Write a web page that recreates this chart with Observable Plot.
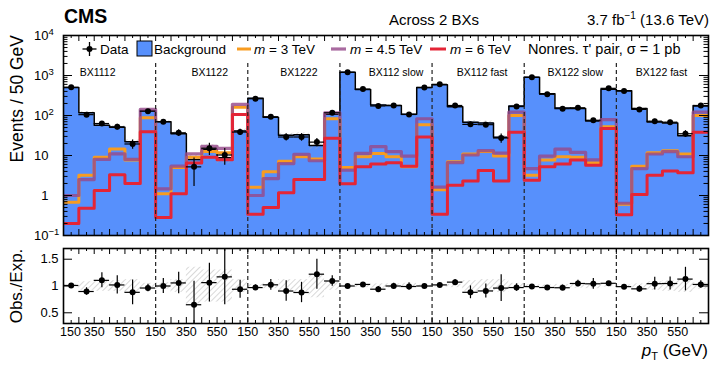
<!DOCTYPE html>
<html><head><meta charset="utf-8">
<script src="https://cdn.jsdelivr.net/npm/d3@7"></script>
<script src="https://cdn.jsdelivr.net/npm/@observablehq/plot@0.6"></script>
<style>
html,body{margin:0;padding:0;background:#fff;}
#wrap{position:relative;width:716px;height:366px;overflow:hidden;font-family:"Liberation Sans",Arial,Helvetica,sans-serif;}
#wrap svg{position:absolute;left:0;overflow:visible;}
</style></head><body>
<svg width="0" height="0" style="position:absolute">
<defs><pattern id="hatch" patternUnits="userSpaceOnUse" width="4" height="4" patternTransform="rotate(45)"><line x1="0" y1="0" x2="0" y2="4" stroke="#a8a8a8" stroke-width="0.9"/></pattern></defs></svg>
<div id="wrap"></div>
<script>
// ---------------- data ----------------
const regions = ["BX1112","BX1122","BX1222","BX112 slow","BX112 fast","BX122 slow","BX122 fast"];
const binLowEdges = ["150","250","350","450","550","650"];
const background = [
  500,117,57,51,22,133,
  70,35,8,14.3,8.8,41,
  270,91,32,33,17.7,107,
  1200,445,184,178,107,500,
  590,166,68,65,28.5,172,
  910,350,153,149,73,455,
  415,150,69,65,31,173];
const observed = [
  505,105,63,52,19.4,128,
  70,37,5.2,15.2,10.3,38.5,
  262,93,29,29,21.6,117,
  1200,458,173,178,106,500,
  602,178,60,59,27.4,167,
  900,340,148,156,76,478,
  410,142,72,68,35,178];
const ratioErr = [
  0.03,0.07,0.14,0.17,0.23,0.07,
  0.14,0.2,0.44,0.36,0.52,0.17,
  0.05,0.1,0.19,0.19,0.28,0.1,
  0.02,0.03,0.05,0.05,0.07,0.03,
  0.03,0.05,0.12,0.13,0.25,0.07,
  0.02,0.03,0.05,0.06,0.1,0.03,
  0.03,0.06,0.12,0.12,0.22,0.07];
const bkgUnc = [
  0.03,0.08,0.1,0.1,0.12,0.05,
  0.06,0.12,0.35,0.3,0.3,0.12,
  0.03,0.05,0.12,0.12,0.22,0.08,
  0.02,0.03,0.04,0.04,0.05,0.02,
  0.02,0.03,0.1,0.12,0.12,0.05,
  0.02,0.02,0.03,0.04,0.05,0.02,
  0.02,0.04,0.08,0.1,0.12,0.06];
const sigM3 = [
  0.68,3.2,9,14.6,7.7,88,
  1.1,5,9,12.5,11.8,160,
  1.6,3.9,7.2,9.3,8.2,83,
  5.0,9.3,11.3,9.3,5.2,59,
  1.4,7,10.9,12.5,9.7,100,
  3.2,7.7,9.3,9,6.6,52,
  0.6,5.4,11.8,13.2,10.9,100];
const sigM45 = [
  1.0,2.5,8,11,8,142,
  1.47,5.4,11,17,15,190,
  1.0,2.65,6.3,10.7,7.4,117,
  4.3,11.3,16.7,12.5,9.7,83,
  1.62,6.6,10.3,13.2,11.5,122,
  4.7,9.7,14.4,12,7.8,79,
  0.64,4.7,10.9,12.5,9.3,121];
const sigM6 = [
  0.2,0.48,1.34,3.3,2.0,39,
  0.28,1.1,6.5,9,7.8,106,
  0.34,0.5,1.17,2.5,2.5,27,
  1.98,5.2,6.1,6.6,5.4,29,
  0.34,1.8,2.3,4.2,2.3,38,
  2.4,5.2,6.1,7.7,5.7,47,
  0.33,1.06,3.2,4.1,3.7,38];
const yTicksTop = [0.1,1,10,100,1000,10000];
const yTickLabelsTop = ["10^-1","1","10","10^2","10^3","10^4"];
const ratioTicks = [0.5,1,1.5];
const ratioTickLabels = ["0.5","1","1.5"];

// ---------------- styling ----------------
const C = {bkg:"#5790fc", m3:"#f89c20", m45:"#964a8b", m6:"#e42536"};
const labelDx = [-12,8,5,10,4,5,-1];
const nb = background.length, perRegion = binLowEdges.length;
const bins = background.map((b,i)=>({
  x1:i, x2:i+1, xc:i+0.5, bkg:b, obs:observed[i],
  ratio: observed[i]/b, rErr: ratioErr[i], dErr: ratioErr[i]*b, unc: bkgUnc[i]}));
const steps = arr => arr.map((v,i)=>({x:i,y:v})).concat([{x:arr.length,y:arr[arr.length-1]}]);
const boundaries = d3.range(1, regions.length).map(r=>r*perRegion);
const edges = d3.range(1, nb);
const mids = d3.range(0, nb).map(i=>i+0.5);
const minorLog = yTicksTop.slice(0,-1).flatMap(d=>d3.range(2,10).map(k=>d*k));
const font = "Liberation Sans, Arial, Helvetica, sans-serif";

const W = 716, ML = 63, MR = 8;
const FW = W-ML-MR;
// upper panel
const TH = 240, TT = 35, TB = 5, TFH = TH-TT-TB;
const topLabel = new Map(yTicksTop.map((t,i)=>[t, yTickLabelsTop[i]]));
const line = (arr, stroke, w, op=1) => Plot.line(steps(arr), {x:"x", y:"y", curve:"step-after", stroke, strokeWidth:w, strokeOpacity:op, clip:true});

const upper = Plot.plot({
  width: W, height: TH, marginLeft: ML, marginRight: MR, marginTop: TT, marginBottom: TB,
  style: {fontFamily: font, fontSize: "13px", color: "black", background: "transparent", overflow: "visible"},
  x: {domain: [0, nb], axis: null},
  y: {type: "log", domain: [0.1, 1e4], axis: null},
  marks: [
    Plot.areaY(steps(background), {x:"x", y1: ()=>0.1, y2:"y", curve:"step-after", fill:C.bkg}),
    Plot.rect(bins, {x1:"x1", x2:"x2", y1:d=>d.bkg*(1-d.unc), y2:d=>d.bkg*(1+d.unc), fill:"url(#hatch)"}),
    line(background, "black", 1.5),
    line(sigM3, C.m3, 3),
    line(sigM45, C.m45, 3.2, 0.82),
    line(sigM6, C.m6, 3),
    Plot.ruleX(boundaries, {x:d=>d, y1:()=>0.1, y2:()=>2000, stroke:"#222", strokeWidth:1.2, strokeDasharray:"4,3"}),
    Plot.ruleX(bins, {x:"xc", y1:d=>Math.max(0.1,d.obs-d.dErr), y2:d=>d.obs+d.dErr, stroke:"black", strokeWidth:1.2}),
    Plot.ruleY(bins, {y:"obs", x1:"x1", x2:"x2", stroke:"black", strokeWidth:1.2}),
    Plot.dot(bins, {x:"xc", y:"obs", r:3, fill:"black"}),
    ...regions.map((r,i)=>Plot.text([r], {x:()=>i*perRegion+perRegion/2, text:d=>d, frameAnchor:"top", dy:33, dx:labelDx[i], fontSize:10.5})),
    // inward ticks
    Plot.tickX(edges, {x:d=>d, insetTop:TFH-6, stroke:"black"}),
    Plot.tickX(mids, {x:d=>d, insetTop:TFH-3, stroke:"black"}),
    Plot.tickX(edges, {x:d=>d, insetBottom:TFH-6, stroke:"black"}),
    Plot.tickX(mids, {x:d=>d, insetBottom:TFH-3, stroke:"black"}),
    Plot.tickY(yTicksTop, {y:d=>d, insetRight:FW-9, stroke:"black"}),
    Plot.tickY(minorLog, {y:d=>d, insetRight:FW-4.5, stroke:"black"}),
    Plot.tickY(yTicksTop, {y:d=>d, insetLeft:FW-9, stroke:"black"}),
    Plot.tickY(minorLog, {y:d=>d, insetLeft:FW-4.5, stroke:"black"}),
    Plot.frame({stroke:"black", strokeWidth:1.6}),
    Plot.axisY({ticks: yTicksTop, tickFormat: d=>topLabel.get(d), tickSize:0, tickPadding:15, anchor:"left", fontSize:13, label:null})
  ]
});
upper.style.top = "0px";

// superscripts on log labels
d3.select(upper).selectAll("text").each(function(){
  const t = this.textContent;
  if (t.includes("^")) {
    const [b, e] = t.split("^");
    this.textContent = b;
    const clone = this.cloneNode(false);
    clone.setAttribute("text-anchor","start");
    const ts = document.createElementNS("http://www.w3.org/2000/svg","tspan");
    ts.setAttribute("dy","-0.5em");
    ts.setAttribute("font-size","9.5");
    ts.textContent = e.replace("-", "\u2212");
    clone.appendChild(ts);
    this.parentNode.appendChild(clone);
  }
});

// lower panel
const BH = 126, BT = 8, BB = 43, BFH = BH-BT-BB;
const ratioLabel = new Map(ratioTicks.map((t,i)=>[t, ratioTickLabels[i]]));
const xTickPos = d3.range(1, nb/2).map(k=>2*k).filter(i=>(i%perRegion)%2===0);
const lower = Plot.plot({
  width: W, height: BH, marginLeft: ML, marginRight: MR, marginTop: BT, marginBottom: BB,
  style: {fontFamily: font, fontSize: "12.5px", color: "black", background: "transparent", overflow: "visible"},
  x: {domain: [0, nb], axis: null},
  y: {domain: [0.3, 1.7], axis: null},
  marks: [
    Plot.rect(bins, {x1:"x1", x2:"x2", y1:d=>1-d.unc, y2:d=>1+d.unc, fill:"url(#hatch)"}),
    Plot.ruleX(boundaries, {x:d=>d, stroke:"#222", strokeWidth:1.2, strokeDasharray:"4,3"}),
    Plot.ruleX(bins, {x:"xc", y1:d=>d.ratio-d.rErr, y2:d=>d.ratio+d.rErr, stroke:"black", strokeWidth:1.2, clip:true}),
    Plot.ruleY(bins, {y:"ratio", x1:"x1", x2:"x2", stroke:"black", strokeWidth:1.2}),
    Plot.dot(bins, {x:"xc", y:"ratio", r:3, fill:"black"}),
    Plot.tickX(edges, {x:d=>d, insetTop:BFH-6, stroke:"black"}),
    Plot.tickX(mids, {x:d=>d, insetTop:BFH-3, stroke:"black"}),
    Plot.tickX(edges, {x:d=>d, insetBottom:BFH-6, stroke:"black"}),
    Plot.tickX(mids, {x:d=>d, insetBottom:BFH-3, stroke:"black"}),
    Plot.tickY(ratioTicks, {y:d=>d, insetRight:FW-9, stroke:"black"}),
    Plot.tickY(ratioTicks, {y:d=>d, insetLeft:FW-9, stroke:"black"}),
    Plot.frame({stroke:"black", strokeWidth:1.6}),
    Plot.axisY({ticks: ratioTicks, tickFormat: d=>ratioLabel.get(d), tickSize:0, tickPadding:5, anchor:"left", fontSize:13, label:null}),
    Plot.axisX({ticks: xTickPos, tickFormat: i=>binLowEdges[i%perRegion], tickSize:0, tickPadding:4, anchor:"bottom", fontSize:12.5, label:null}),
    Plot.text([0], {x:d=>d, text:()=>binLowEdges[0], frameAnchor:"bottom", lineAnchor:"top", dy:4, dx:7, fontSize:12.5})
  ]
});
lower.style.top = TH + "px";

const wrap = document.getElementById("wrap");
wrap.appendChild(upper);
wrap.appendChild(lower);

// titles, legend, axis titles
const overlay = `
<svg width="716" height="366" style="top:0;left:0;pointer-events:none" font-family="${font}">
  <text x="64" y="23" font-size="19.5" font-weight="bold">CMS</text>
  <text x="389" y="25" font-size="15">Across 2 BXs</text>
  <text x="709" y="25" font-size="15" text-anchor="end">3.7 fb<tspan dy="-6" font-size="10">\u22121</tspan><tspan dy="6"> (13.6 TeV)</tspan></text>
  <g font-size="13.5">
    <line x1="82.5" x2="96.5" y1="49" y2="49" stroke="black" stroke-width="1.3"/>
    <line x1="89.5" x2="89.5" y1="42" y2="56" stroke="black" stroke-width="1.3"/>
    <circle cx="89.5" cy="49" r="3" fill="black"/>
    <text x="100" y="54">Data</text>
    <rect x="137" y="41" width="15" height="15" fill="${C.bkg}" stroke="black" stroke-width="1"/>
    <text x="154" y="54">Background</text>
    <line x1="237" x2="251" y1="49" y2="49" stroke="${C.m3}" stroke-width="3"/>
    <text x="254" y="54"><tspan font-style="italic">m</tspan> = 3 TeV</text>
    <line x1="331" x2="346" y1="49" y2="49" stroke="${C.m45}" stroke-opacity="0.82" stroke-width="3.2"/>
    <text x="350" y="54"><tspan font-style="italic">m</tspan> = 4.5 TeV</text>
    <line x1="430" x2="446" y1="49" y2="49" stroke="${C.m6}" stroke-width="3"/>
    <text x="450" y="54"><tspan font-style="italic">m</tspan> = 6 TeV</text>
  </g>
  <text x="528" y="54" font-size="14.5">Nonres. \u03c4' pair, \u03c3 = 1 pb</text>
  <text transform="translate(23,35) rotate(-90)" text-anchor="end" font-size="17.5">Events / 50 GeV</text>
  <text transform="translate(22,286) rotate(-90)" text-anchor="middle" font-size="17">Obs./Exp.</text>
  <text x="708" y="356" text-anchor="end" font-size="17"><tspan font-style="italic">p</tspan><tspan font-size="11" dy="4">T</tspan><tspan dy="-4"> (GeV)</tspan></text>
</svg>`;
wrap.insertAdjacentHTML("beforeend", overlay);
</script>
</body></html>
